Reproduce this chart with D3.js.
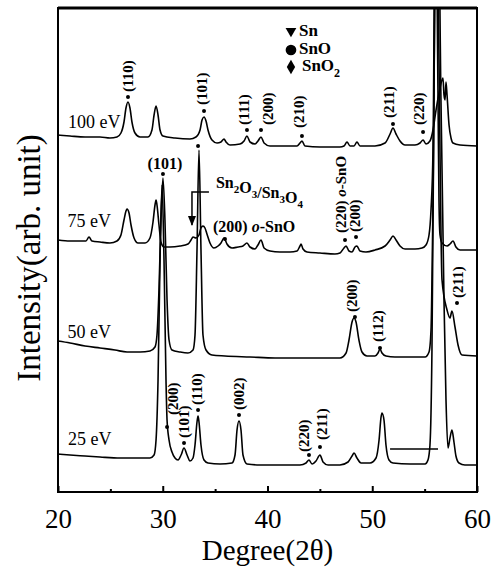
<!DOCTYPE html>
<html><head><meta charset="utf-8">
<script src="https://cdn.jsdelivr.net/npm/d3@7"></script>
<style>body{margin:0;background:#fff}svg{display:block}</style>
</head><body>
<svg id="c" width="498" height="568"></svg>
<script>
// ---------- data (2θ in degrees, intensity in arb. units) ----------
const xTicks = [20, 30, 40, 50, 60];
const xMinorTicks = [25, 35, 45, 55];
const seriesNames = ["100 eV", "75 eV", "50 eV", "25 eV"];

const ev100 = [[20.00,357],[21.15,356],[22.58,355],[24.01,355],[24.96,354],[25.63,355],[26.01,359],[26.30,370],[26.49,384],[26.68,390],[26.87,384],[27.06,370],[27.35,359],[27.83,355],[28.59,355],[28.97,362],[29.17,377],[29.36,386],[29.55,377],[29.74,362],[30.02,356],[31.17,354],[32.60,353],[33.17,355],[33.56,362],[33.75,372],[33.94,375],[34.13,371],[34.32,362],[34.70,352],[35.18,349],[35.56,350],[35.85,353],[36.04,350],[36.42,347],[37.38,348],[37.76,351],[38.04,356],[38.33,350],[38.81,348],[39.09,351],[39.38,355],[39.67,349],[40.24,346],[41.67,346],[42.82,346],[43.10,349],[43.29,351],[43.58,346],[45.01,345],[46.92,345],[47.30,346],[47.59,350],[47.88,346],[48.26,346],[48.54,350],[48.83,346],[50.26,346],[51.22,349],[51.70,358],[51.98,364],[52.27,358],[52.65,351],[53.13,347],[54.08,347],[54.56,349],[54.85,352],[55.13,348],[55.51,351],[55.80,362],[56.09,382],[56.47,404],[56.75,414],[56.85,397],[56.95,392],[57.04,410],[57.14,397],[57.33,367],[57.52,354],[57.71,349],[58.38,347],[60.00,346]];

const ev75 = [[20.00,252],[21.15,251],[22.67,251],[22.96,255],[23.25,251],[24.01,250],[24.96,249],[25.63,251],[26.01,257],[26.30,272],[26.49,281],[26.59,283],[26.78,279],[26.97,267],[27.26,254],[27.64,249],[28.31,249],[28.78,254],[29.07,270],[29.26,287],[29.36,292],[29.45,287],[29.64,267],[29.83,250],[30.12,245],[30.69,245],[31.65,246],[32.41,248],[32.70,252],[32.89,255],[33.17,254],[33.46,257],[33.65,264],[33.84,266],[34.03,264],[34.22,258],[34.51,249],[34.89,244],[35.28,246],[35.56,249],[35.85,254],[36.13,248],[36.61,244],[37.18,245],[37.66,246],[38.04,249],[38.33,245],[38.81,243],[39.09,247],[39.38,252],[39.67,244],[40.24,241],[41.19,240],[42.15,240],[42.82,241],[43.10,246],[43.20,248],[43.39,243],[43.77,240],[45.01,239],[46.44,238],[46.92,239],[47.30,244],[47.50,246],[47.78,241],[48.07,240],[48.35,245],[48.54,246],[48.83,241],[49.40,240],[50.26,242],[51.22,246],[51.70,252],[51.98,256],[52.27,252],[52.65,246],[53.13,243],[54.08,243],[54.75,244],[55.13,247],[55.42,257],[55.61,282],[55.80,342],[56.04,620],[56.28,392],[56.37,292],[56.47,257],[56.66,249],[57.14,246],[57.42,248],[57.71,251],[57.99,245],[58.38,242],[60.00,242]];

const ev50 = [[20.00,151],[21.15,149],[22.58,146],[24.01,144],[25.44,142],[26.59,140],[27.83,140],[28.78,141],[29.26,145],[29.45,157],[29.64,202],[29.83,272],[30.02,314],[30.21,272],[30.41,192],[30.60,152],[30.88,142],[31.65,140],[32.41,139],[32.89,142],[33.08,157],[33.27,242],[33.46,342],[33.65,242],[33.84,157],[34.13,142],[34.70,137],[35.94,136],[38.33,135],[40.72,134],[43.10,134],[46.92,134],[47.50,139],[47.78,152],[48.07,170],[48.26,174],[48.45,170],[48.73,152],[49.02,140],[49.50,136],[50.26,136],[50.55,139],[50.74,143],[50.93,139],[51.31,136],[52.17,135],[53.61,135],[55.04,135],[55.42,140],[55.61,162],[55.80,292],[56.13,640],[56.37,432],[56.66,212],[57.14,182],[57.42,174],[57.61,181],[57.90,165],[58.19,147],[58.57,137],[60.00,136]];

const ev25 = [[20.00,38],[21.15,37],[22.58,36],[24.01,35],[25.92,34],[27.83,34],[28.78,34],[29.17,37],[29.36,52],[29.55,112],[29.74,232],[29.93,307],[30.12,232],[30.31,112],[30.41,72],[30.60,52],[30.88,40],[31.17,34],[31.46,32],[31.75,37],[32.03,44],[32.32,37],[32.60,31],[32.89,34],[33.08,47],[33.27,70],[33.37,76],[33.46,70],[33.65,47],[33.94,32],[34.32,29],[35.47,28],[36.61,29],[36.90,37],[37.09,62],[37.28,71],[37.47,62],[37.66,37],[38.04,28],[39.29,27],[41.19,27],[43.10,27],[43.68,29],[43.96,32],[44.25,28],[44.63,31],[45.01,37],[45.30,30],[45.78,27],[46.92,27],[47.69,30],[48.07,36],[48.26,39],[48.54,34],[48.93,29],[49.79,29],[50.36,34],[50.65,52],[50.84,75],[50.93,79],[51.12,72],[51.31,47],[51.60,32],[51.98,29],[53.61,28],[55.04,28],[55.32,32],[55.51,47],[55.70,142],[55.89,392],[56.18,700],[56.56,392],[56.85,192],[57.04,92],[57.23,44],[57.42,54],[57.61,62],[57.80,50],[57.99,36],[58.28,29],[58.85,27],[60.00,27]];

const seriesData = [ev100, ev75, ev50, ev25];
// label anchor for each series name: [deg, intensity]
const seriesLabelPos = [[20.95, 364], [20.90, 265], [20.90, 154], [20.95, 47]];

// rotated peak labels: [text, dotDeg, dotI, textCenterDeg, textStartI]
const peakLabels = [
  ["(110)", 26.68, 395, 26.63, 400],
  ["(101)", 33.94, 381, 33.70, 387],
  ["(111)", 38.04, 362, 37.71, 367],
  ["(200)", 39.38, 362, 40.05, 367],
  ["(210)", 43.29, 356, 43.01, 364],
  ["(211)", 51.98, 368, 51.60, 374],
  ["(220)", 54.85, 360, 54.42, 367],
  ["(220) o-SnO", 47.40, 252, 47.02, 259],
  ["(200)", 48.45, 255, 48.35, 260],
  ["(200)", 48.35, 175, 48.02, 180],
  ["(112)", 50.74, 144, 50.55, 150],
  ["(211)", 58.09, 189, 58.14, 194],
  ["(200)", 30.41, 65, 30.93, 77],
  ["(101)", 32.03, 49, 32.03, 54],
  ["(110)", 33.37, 82, 33.22, 87],
  ["(002)", 37.28, 77, 37.28, 82],
  ["(220)", 43.96, 37, 43.44, 40],
  ["(211)", 45.01, 45, 45.15, 52]
];
// extra marker dots without text: [deg, intensity]
const extraDots = [[33.37, 346]];
// horizontal labels
const horizLabels = [
  { parts: [["(101)", false]], deg: 30.21, inten: 323, anchor: "middle", dot: [30.02, 318] },
  { parts: [["(200) ", false], ["o", true], ["-SnO", false]], deg: 34.80, inten: 260, anchor: "start", dot: [35.94, 253] }
];
const legendItems = [["Sn", "triangle"], ["SnO", "circle"], ["SnO", "diamond", "2"]];
</script>
<script>
const FONT = "'Liberation Serif','Times New Roman',serif";
const svg = d3.select("#c");
const x = d3.scaleLinear().domain([20, 60]).range([58, 477]);
const y = d3.scaleLinear().domain([0, 484]).range([492, 8]);

svg.append("rect").attr("width", 498).attr("height", 568).attr("fill", "#fff");
svg.append("defs").append("clipPath").attr("id", "pc")
  .append("rect").attr("x", x(20)).attr("y", y(484)).attr("width", x(60) - x(20)).attr("height", y(0) - y(484));

const line = d3.line().x(d => x(d[0])).y(d => y(d[1])).curve(d3.curveMonotoneX);
const g = svg.append("g").attr("clip-path", "url(#pc)");
seriesData.forEach(s => {
  g.append("path").attr("d", line(s)).attr("fill", "none").attr("stroke", "#000")
    .attr("stroke-width", 1.6).attr("stroke-linejoin", "round");
});

// annotation horizontal line in 25 eV
g.append("line").attr("x1", x(51.70)).attr("x2", x(56.28)).attr("y1", y(43)).attr("y2", y(43))
  .attr("stroke", "#000").attr("stroke-width", 1.6);

// frame
svg.append("rect").attr("x", x(20)).attr("y", y(484)).attr("width", x(60) - x(20)).attr("height", y(0) - y(484))
  .attr("fill", "none").attr("stroke", "#000").attr("stroke-width", 2);
svg.append("line").attr("x1", x(20)).attr("x2", x(60)).attr("y1", y(484)).attr("y2", y(484))
  .attr("stroke", "#000").attr("stroke-width", 3);

// x axis
const ax = svg.append("g").attr("transform", `translate(0,${y(0)})`)
  .call(d3.axisBottom(x).tickValues(xTicks).tickSize(-6).tickPadding(17).tickFormat(d3.format("d")));
ax.select(".domain").remove();
ax.selectAll("line").attr("stroke-width", 2);
ax.selectAll("text").attr("font-family", FONT).attr("font-size", 27).attr("fill", "#000");
const axm = svg.append("g").attr("transform", `translate(0,${y(0)})`)
  .call(d3.axisBottom(x).tickValues(xMinorTicks).tickSize(-3).tickFormat(""));
axm.select(".domain").remove();
axm.selectAll("line").attr("stroke-width", 2);

svg.append("text").attr("x", (x(20) + x(60)) / 2).attr("y", 560).attr("text-anchor", "middle")
  .attr("font-family", FONT).attr("font-size", 29).text("Degree(2θ)");
svg.append("text").attr("transform", `translate(40,${(y(0) + y(484)) / 2 + 8}) rotate(-90)`)
  .attr("text-anchor", "middle").attr("font-family", FONT).attr("font-size", 33).text("Intensity(arb. unit)");

// series labels
seriesNames.forEach((n, i) => {
  svg.append("text").attr("x", x(seriesLabelPos[i][0])).attr("y", y(seriesLabelPos[i][1]))
    .attr("font-family", FONT).attr("font-size", 18).text(n);
});

// peak labels (rotated)
peakLabels.forEach(([t, dd, di, td, ti]) => {
  svg.append("circle").attr("cx", x(dd)).attr("cy", y(di)).attr("r", 2).attr("fill", "#000");
  const txt = svg.append("text").attr("transform", `translate(${x(td)},${y(ti)}) rotate(-90)`)
    .attr("dy", "0.35em").attr("font-family", FONT).attr("font-size", 15).attr("font-weight", "bold");
  if (t.includes("o-SnO")) {
    txt.append("tspan").text("(220) ");
    txt.append("tspan").attr("font-style", "italic").text("o");
    txt.append("tspan").text("-SnO");
  } else txt.text(t);
});
extraDots.forEach(([d, i]) => svg.append("circle").attr("cx", x(d)).attr("cy", y(i)).attr("r", 2).attr("fill", "#000"));

horizLabels.forEach(h => {
  const t = svg.append("text").attr("x", x(h.deg)).attr("y", y(h.inten)).attr("text-anchor", h.anchor)
    .attr("font-family", FONT).attr("font-size", 16).attr("font-weight", "bold");
  h.parts.forEach(([s, it]) => t.append("tspan").attr("font-style", it ? "italic" : "normal").text(s));
  svg.append("circle").attr("cx", x(h.dot[0])).attr("cy", y(h.dot[1])).attr("r", 2).attr("fill", "#000");
});

// Sn2O3/Sn3O4 label and arrow
const lab = svg.append("text").attr("x", x(35.08)).attr("y", y(304)).attr("font-family", FONT)
  .attr("font-size", 16).attr("font-weight", "bold");
[["Sn", 0], ["2", 1], ["O", 0], ["3", 1], ["/Sn", 0], ["3", 1], ["O", 0], ["4", 1]].forEach(([s, sub]) => {
  lab.append("tspan").attr("font-size", sub ? 11 : 16).attr("dy", sub ? 5 : null).text(s);
  if (sub) lab.append("tspan").attr("dy", -5).text("");
});
svg.append("path").attr("d", `M${x(34.41)},${y(300)}H${x(32.79)}V${y(267)}`).attr("fill", "none")
  .attr("stroke", "#000").attr("stroke-width", 1.5);
svg.append("path").attr("d", `M${x(32.79) - 4},${y(276)}L${x(32.79) + 4},${y(276)}L${x(32.79)},${y(266)}Z`).attr("fill", "#000");

// legend
const lx = x(42.24);
legendItems.forEach(([name, shape, sub], i) => {
  const cy = [31, 50, 67][i];
  let sym;
  if (shape === "triangle") sym = d3.symbol().type(d3.symbolTriangle).size(50);
  else if (shape === "circle") sym = d3.symbol().type(d3.symbolCircle).size(90);
  else sym = d3.symbol().type(d3.symbolDiamond).size(60);
  svg.append("path").attr("d", sym()).attr("transform", `translate(${lx},${cy}) ${shape === "triangle" ? "rotate(180)" : ""}`).attr("fill", "#000");
  const t = svg.append("text").attr("x", lx + 8 + (i === 2 ? 3 : 0)).attr("y", [36, 54, 71][i])
    .attr("font-family", FONT).attr("font-size", 17).attr("font-weight", "bold").text(name);
  if (sub) t.append("tspan").attr("font-size", 12).attr("dy", 6).text(sub);
});
</script>
</body></html>
